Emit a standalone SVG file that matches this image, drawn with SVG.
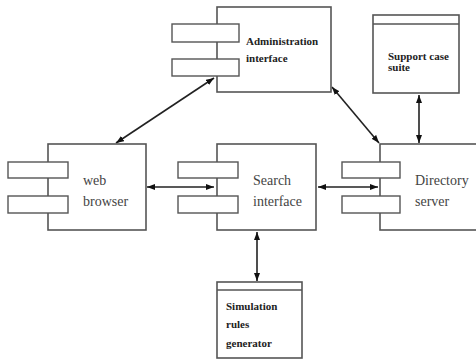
<svg xmlns="http://www.w3.org/2000/svg" width="476" height="363" viewBox="0 0 476 363">
<style>
.box{fill:#fff;stroke:#555;stroke-width:1.6}
.port{fill:#fff;stroke:#555;stroke-width:1.4}
.cn{stroke:#222;stroke-width:1.6;fill:none;marker-start:url(#ah);marker-end:url(#ah)}
.b{font-family:'Liberation Serif','Times New Roman',serif;font-weight:bold;font-size:11px;fill:#222}
.r{font-family:'Liberation Serif','Times New Roman',serif;font-size:14px;fill:#444}
</style>
<defs>
<marker id="ah" viewBox="0 0 8 6" refX="8" refY="3" markerWidth="8" markerHeight="6" markerUnits="userSpaceOnUse" orient="auto-start-reverse">
<path d="M0,0 L8,3 L0,6 Z" fill="#111"/>
</marker>
</defs>
<rect width="476" height="363" fill="#fff"/>
<g id="connectors">
<line class="cn" x1="116" y1="143" x2="214" y2="78"/>
<line class="cn" x1="332" y1="87" x2="379" y2="143"/>
<line class="cn" x1="147" y1="187" x2="214" y2="187"/>
<line class="cn" x1="318" y1="187" x2="378" y2="187"/>
<line class="cn" x1="257" y1="232" x2="257" y2="281"/>
<line class="cn" x1="419" y1="95" x2="419" y2="143"/>
</g>
<g id="admin">
<rect class="box" x="217" y="7" width="114" height="85"/>
<rect class="port" x="172" y="24" width="67" height="18"/>
<rect class="port" x="172" y="59" width="67" height="17"/>
<text class="b" x="246" y="45">Administration</text>
<text class="b" x="246" y="62">interface</text>
</g>
<g id="support">
<rect class="box" x="373" y="15" width="86" height="78"/>
<line x1="373" y1="24" x2="459" y2="24" stroke="#555" stroke-width="1.4"/>
<text class="b" x="388" y="60">Support case</text>
<text class="b" x="388" y="71">suite</text>
</g>
<g id="web">
<rect class="box" x="48" y="144" width="98" height="86"/>
<rect class="port" x="8" y="162" width="60" height="16"/>
<rect class="port" x="8" y="196" width="60" height="17"/>
<text class="r" x="83" y="185">web</text>
<text class="r" x="83" y="206">browser</text>
</g>
<g id="search">
<rect class="box" x="217" y="144" width="99" height="86"/>
<rect class="port" x="178" y="162" width="60" height="16"/>
<rect class="port" x="178" y="196" width="60" height="17"/>
<text class="r" x="253" y="185">Search</text>
<text class="r" x="253" y="206">interface</text>
</g>
<g id="directory">
<rect class="box" x="380" y="144" width="110" height="86"/>
<rect class="port" x="342" y="162" width="58" height="16"/>
<rect class="port" x="342" y="196" width="58" height="17"/>
<text class="r" x="415" y="185">Directory</text>
<text class="r" x="415" y="206">server</text>
</g>
<g id="simulation">
<rect class="box" x="217" y="282" width="85" height="76"/>
<line x1="217" y1="290" x2="302" y2="290" stroke="#555" stroke-width="1.4"/>
<text class="b" x="226" y="310">Simulation</text>
<text class="b" x="226" y="328">rules</text>
<text class="b" x="226" y="347">generator</text>
</g>
</svg>
